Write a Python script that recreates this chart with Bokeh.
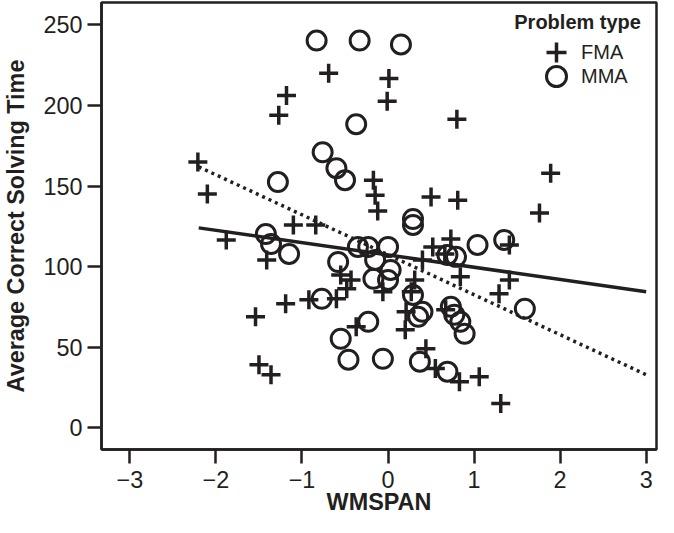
import numpy as np
from bokeh.plotting import figure
from bokeh.models import Range1d, FixedTicker, Legend, LegendItem, Label
from bokeh.embed import file_html
from bokeh.resources import INLINE

# ---- data ----
fma_x = [-0.69, 0.01, -0.01, -1.18, -1.27, -2.21, -2.10, -0.17, -0.15, -0.12,
         0.80, 1.89, 0.50, 0.81, 1.76, -1.88, -1.10, -0.84, -1.41, -0.55,
         -0.48, -1.19, -0.92, -0.60, -1.54, -1.50, -1.36, -0.37, 0.20, 0.44,
         0.55, 0.83, 1.06, 1.31, -0.43, 0.31, 0.27, 0.73, 0.52, 0.66,
         0.40, 0.84, 1.41, 1.29, 1.41, 0.21, 0.67, -0.06]
fma_y = [220.0, 216.8, 202.6, 206.2, 193.9, 164.9, 145.1, 153.7, 144.4, 134.5,
         191.5, 158.0, 143.2, 141.3, 133.3, 116.6, 125.9, 125.9, 104.2, 94.9,
         86.3, 77.0, 79.5, 80.1, 68.9, 39.2, 33.0, 62.7, 60.9, 49.1,
         36.8, 28.7, 31.8, 15.1, 91.8, 91.8, 84.4, 117.2, 112.3, 107.9,
         104.2, 93.7, 91.8, 83.2, 113.5, 72.0, 73.3, 84.4]

mma_x = [-0.83, -0.33, 0.15, -0.37, -0.76, -0.60, -0.50, -1.28, -1.42, -1.36,
         -1.15, -0.58, -0.35, -0.23, 0.00, -0.15, -0.17, 0.03, 0.00, 0.29,
         0.29, 1.04, 1.35, 0.79, 0.69, -0.77, -0.23, -0.55, -0.46, -0.06,
         0.37, 0.69, 0.89, 0.29, 0.40, 0.35, 0.73, 0.77, 0.84, 1.59]
mma_y = [240.3, 240.3, 237.9, 188.4, 171.0, 161.1, 153.7, 152.5, 120.3, 114.1,
         107.9, 102.9, 112.3, 112.3, 112.3, 104.2, 92.5, 98.0, 91.8, 129.6,
         125.9, 113.5, 116.6, 106.1, 107.3, 80.1, 65.8, 55.3, 42.3, 42.9,
         41.1, 34.9, 58.4, 82.5, 72.0, 68.9, 75.1, 70.2, 65.8, 73.9]

x_ticks = [-3, -2, -1, 0, 1, 2, 3]
y_ticks = [0, 50, 100, 150, 200, 250]

fit_x = [-2.2, 3.0]
solid_intercept, solid_slope = 107.3, -7.63
dotted_intercept, dotted_slope = 107.4, -24.8

INK = "#231f20"
FONT = "Liberation Sans"
TICK_SIZE = "23.4px"
LABEL_SIZE = "23.4px"

p = figure(width=658, height=517, output_backend="svg", toolbar_location=None,
           x_range=Range1d(-3.33, 3.12), y_range=Range1d(-13.4, 263.9),
           min_border_left=98, min_border_right=2, min_border_top=2,
           min_border_bottom=67)
p.grid.visible = False
p.outline_line_color = INK
p.outline_line_width = 2.5
p.background_fill_color = "white"
p.border_fill_color = "white"

for ax in (p.xaxis[0], p.yaxis[0]):
    ax.axis_line_color = INK
    ax.axis_line_width = 2.5
    ax.major_tick_line_color = INK
    ax.major_tick_line_width = 2.5
    ax.major_tick_out = 14
    ax.major_tick_in = 0
    ax.minor_tick_line_color = None
    ax.major_label_text_font = FONT
    ax.major_label_text_font_size = TICK_SIZE
    ax.major_label_text_color = INK
    ax.axis_label_text_font = FONT
    ax.axis_label_text_font_size = LABEL_SIZE
    ax.axis_label_text_font_style = "bold"
    ax.axis_label_text_color = INK

p.xaxis[0].ticker = FixedTicker(ticks=x_ticks)
p.yaxis[0].ticker = FixedTicker(ticks=y_ticks)
p.xaxis[0].major_label_overrides = {t: ("\u2212" + str(-t) if t < 0 else str(t)) for t in x_ticks}
p.xaxis[0].axis_label = "WMSPAN"
p.yaxis[0].axis_label = "Average Correct Solving Time"
p.xaxis[0].major_label_standoff = 7
p.xaxis[0].axis_label_standoff = -2
p.yaxis[0].major_label_standoff = 5
p.yaxis[0].axis_label_standoff = 11

# regression lines
fx = np.array(fit_x)
p.line(fx, solid_intercept + solid_slope * fx, line_color=INK, line_width=3.5)
p.line(fx, dotted_intercept + dotted_slope * fx, line_color=INK, line_width=3.5,
       line_dash="3 4")

r_fma = p.scatter(fma_x, fma_y, marker="cross", size=19, line_color=INK,
                  line_width=3.5)
r_mma = p.scatter(mma_x, mma_y, marker="circle", size=19, line_color=INK,
                  line_width=3, fill_color=None)

legend_style = dict(glyph_width=50, glyph_height=50, padding=0,
                    label_standoff=-6, label_text_font=FONT,
                    label_text_font_size="20px", label_text_color=INK,
                    border_line_color=None, background_fill_alpha=0)
p.add_layout(Legend(items=[LegendItem(label="FMA", renderers=[r_fma])],
                    location=(430, 372), **legend_style))
p.add_layout(Legend(items=[LegendItem(label="MMA", renderers=[r_mma])],
                    location=(430, 348), **legend_style))

p.add_layout(Label(x=1.467, y=251.5, text="Problem type", text_font=FONT,
                   text_font_size="20px", text_font_style="bold",
                   text_color=INK, text_baseline="middle", text_align="left"))

open("out.html", "w").write(file_html(p, INLINE))
